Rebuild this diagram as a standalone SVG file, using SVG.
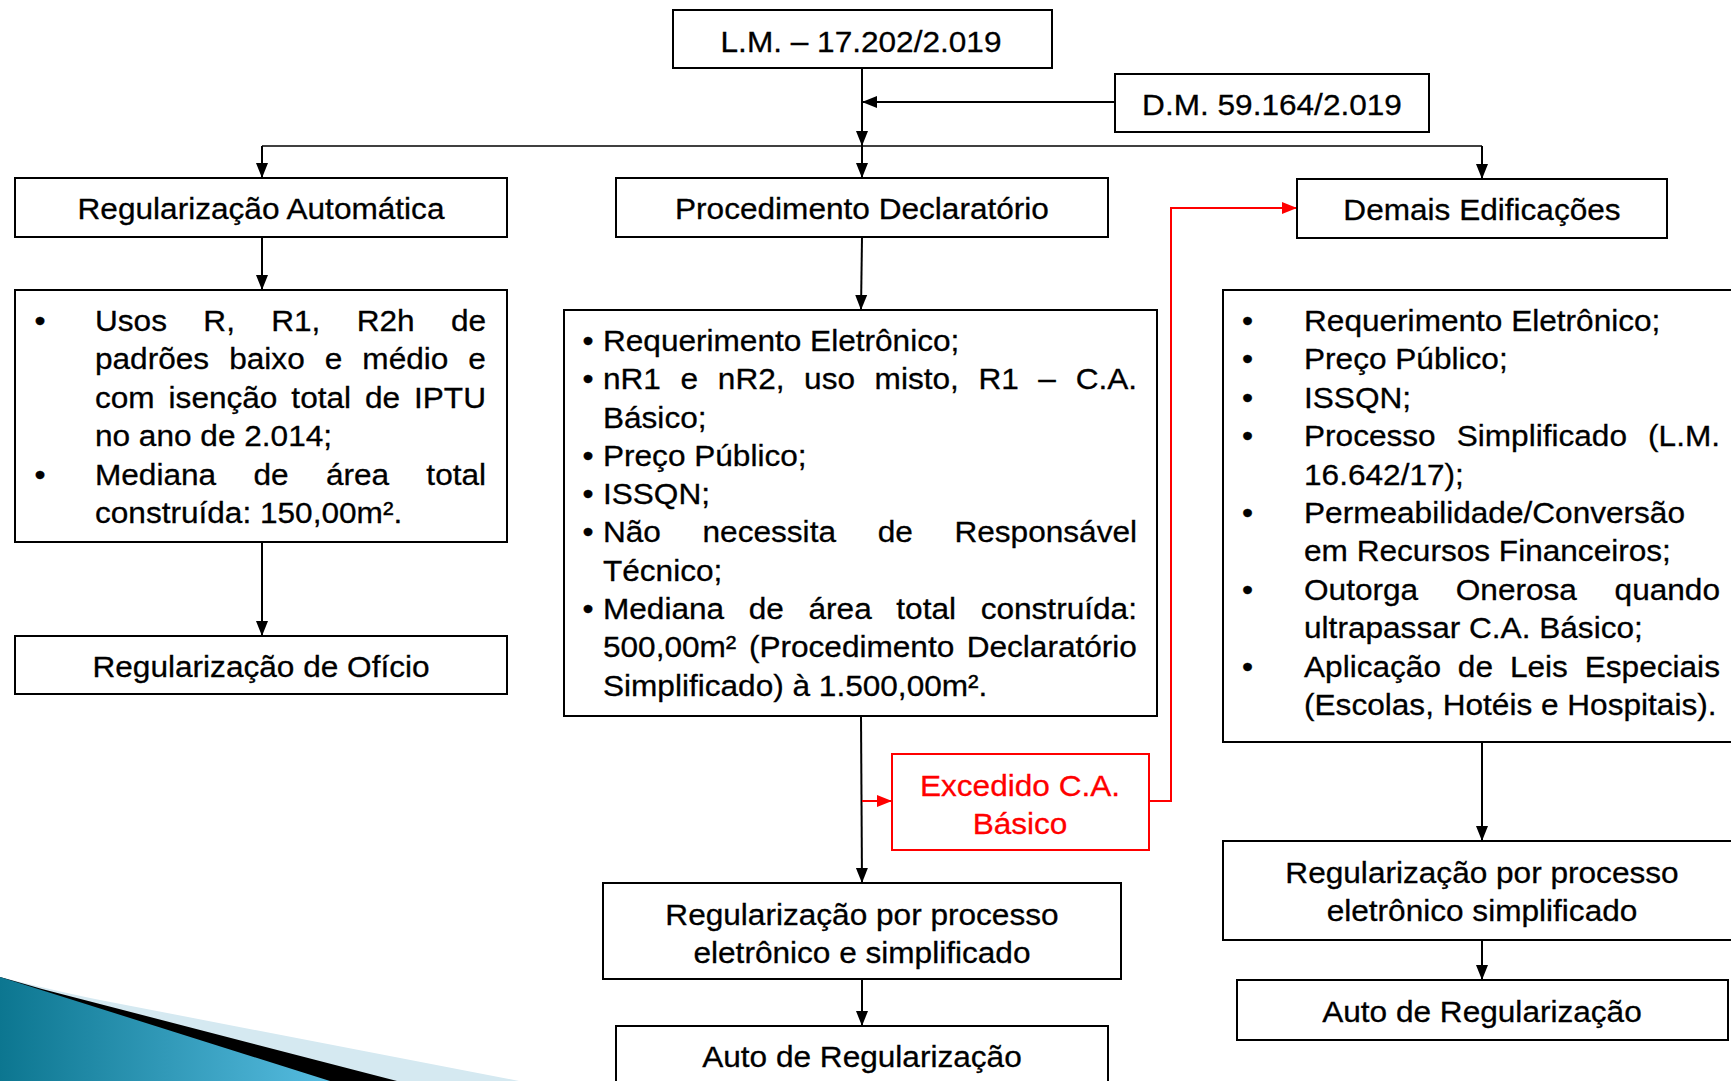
<svg xmlns="http://www.w3.org/2000/svg" width="1731" height="1081" viewBox="0 0 1731 1081">
<defs>
<style>
.box{fill:#fff;stroke:#000;stroke-width:2}
.rbox{fill:#fff;stroke:#FF0000;stroke-width:2}
.t{font-family:"Liberation Sans",Arial,sans-serif;font-size:30px;fill:#000;stroke:#000;stroke-width:0.3px}
.c{text-anchor:middle}
.red{fill:#FF0000;stroke:#FF0000}
.ln{fill:none;stroke:#000;stroke-width:2}
.rl{fill:none;stroke:#FF0000;stroke-width:2}
</style>
<marker id="ah" markerUnits="userSpaceOnUse" markerWidth="16" markerHeight="14" refX="15" refY="7" orient="auto"><path d="M0,1 L15,7 L0,13 z" fill="#000"/></marker>
<marker id="ahr" markerUnits="userSpaceOnUse" markerWidth="16" markerHeight="14" refX="15" refY="7" orient="auto"><path d="M0,1 L15,7 L0,13 z" fill="#FF0000"/></marker>
<linearGradient id="teal" x1="0" y1="0" x2="1" y2="0"><stop offset="0" stop-color="#0C7690"/><stop offset="1" stop-color="#56BCE0"/></linearGradient>
</defs>
<rect width="1731" height="1081" fill="#fff"/>

<g id="decoration">
<path d="M0,977 Q60,992 100,1000 L519,1081 L0,1081 Z" fill="#D5E9F1"/>
<path d="M0,977 Q25,984 42,989 L397,1081 L0,1081 Z" fill="#000"/>
<path d="M0,977 L330,1081 L0,1081 Z" fill="url(#teal)"/>
</g>

<g id="connectors">
<line class="ln" x1="862" y1="68" x2="862" y2="146" marker-end="url(#ah)"/>
<line class="ln" x1="1115" y1="102" x2="862" y2="102" marker-end="url(#ah)"/>
<line class="ln" x1="262" y1="146" x2="1482" y2="146" style="stroke-width:1.6"/>
<line class="ln" x1="262" y1="146" x2="262" y2="178" marker-end="url(#ah)"/>
<line class="ln" x1="862" y1="146" x2="862" y2="178" marker-end="url(#ah)"/>
<line class="ln" x1="1482" y1="146" x2="1482" y2="179" marker-end="url(#ah)"/>
<line class="ln" x1="262" y1="237" x2="262" y2="290" marker-end="url(#ah)"/>
<line class="ln" x1="262" y1="542" x2="262" y2="636" marker-end="url(#ah)"/>
<line class="ln" x1="862" y1="237" x2="861" y2="310" marker-end="url(#ah)"/>
<line class="ln" x1="861" y1="716" x2="862" y2="883" marker-end="url(#ah)"/>
<line class="rl" x1="862" y1="801" x2="892" y2="801" marker-end="url(#ahr)"/>
<polyline class="rl" points="1149,801 1171,801 1171,208 1297,208" marker-end="url(#ahr)"/>
<line class="ln" x1="862" y1="979" x2="862" y2="1026" marker-end="url(#ah)"/>
<line class="ln" x1="1482" y1="742" x2="1482" y2="841" marker-end="url(#ah)"/>
<line class="ln" x1="1482" y1="940" x2="1482" y2="980" marker-end="url(#ah)"/>
</g>

<g id="n-lm">
<rect class="box" x="673" y="10" width="379" height="58"/>
<text class="t c" transform="scale(1.053 1)" x="817.7" y="52">L.M. – 17.202/2.019</text>
</g>

<g id="n-dm">
<rect class="box" x="1115" y="74" width="314" height="58"/>
<text class="t c" transform="scale(1.053 1)" x="1208" y="115">D.M. 59.164/2.019</text>
</g>

<g id="n-reg-auto">
<rect class="box" x="15" y="178" width="492" height="59"/>
<text class="t c" transform="scale(1.053 1)" x="247.9" y="219">Regularização Automática</text>
</g>

<g id="n-proc-decl">
<rect class="box" x="616" y="178" width="492" height="59"/>
<text class="t c" transform="scale(1.053 1)" x="818.6" y="219">Procedimento Declaratório</text>
</g>

<g id="n-demais">
<rect class="box" x="1297" y="179" width="370" height="59"/>
<text class="t c" transform="scale(1.053 1)" x="1407.4" y="220">Demais Edificações</text>
</g>

<g id="n-auto-list">
<rect class="box" x="15" y="290" width="492" height="252"/>
<g class="t" transform="scale(1.053 1)">
<text x="32.8" y="331">•</text>
<text y="331"><tspan x="90.2">Usos</tspan><tspan x="193.1">R,</tspan><tspan x="257.5">R1,</tspan><tspan x="338.7">R2h</tspan><tspan x="428.3">de</tspan></text>
<text y="369.4"><tspan x="90.2">padrões</tspan><tspan x="217.7">baixo</tspan><tspan x="308.4">e</tspan><tspan x="344.1">médio</tspan><tspan x="444.7">e</tspan></text>
<text y="407.8"><tspan x="90.2">com</tspan><tspan x="160.1">isenção</tspan><tspan x="276.7">total</tspan><tspan x="346.6">de</tspan><tspan x="393.2">IPTU</tspan></text>
<text x="90.2" y="446.2">no ano de 2.014;</text>
<text x="32.8" y="484.6">•</text>
<text y="484.6"><tspan x="90.2">Mediana</tspan><tspan x="240.7">de</tspan><tspan x="309.5">área</tspan><tspan x="404.9">total</tspan></text>
<text x="90.2" y="523">construída: 150,00m².</text>
</g>
</g>

<g id="n-oficio">
<rect class="box" x="15" y="636" width="492" height="58"/>
<text class="t c" transform="scale(1.053 1)" x="247.9" y="677">Regularização de Ofício</text>
</g>

<g id="n-proc-list">
<rect class="box" x="564" y="310" width="593" height="406"/>
<g class="t" transform="scale(1.053 1)">
<text x="553.2" y="351">•</text>
<text x="572.6" y="351">Requerimento Eletrônico;</text>
<text x="553.2" y="389.3">•</text>
<text y="389.3"><tspan x="572.6">nR1</tspan><tspan x="646.3">e</tspan><tspan x="681.7">nR2,</tspan><tspan x="763.6">uso</tspan><tspan x="830.6">misto,</tspan><tspan x="929.3">R1</tspan><tspan x="986.1">–</tspan><tspan x="1021.5">C.A.</tspan></text>
<text x="572.6" y="427.6">Básico;</text>
<text x="553.2" y="465.9">•</text>
<text x="572.6" y="465.9">Preço Público;</text>
<text x="553.2" y="504.2">•</text>
<text x="572.6" y="504.2">ISSQN;</text>
<text x="553.2" y="542.5">•</text>
<text y="542.5"><tspan x="572.6">Não</tspan><tspan x="667.2">necessita</tspan><tspan x="833.5">de</tspan><tspan x="906.4">Responsável</tspan></text>
<text x="572.6" y="580.8">Técnico;</text>
<text x="553.2" y="619.1">•</text>
<text y="619.1"><tspan x="572.6">Mediana</tspan><tspan x="711.1">de</tspan><tspan x="767.8">área</tspan><tspan x="851.2">total</tspan><tspan x="931.3">construída:</tspan></text>
<text y="657.4"><tspan x="572.6">500,00m²</tspan><tspan x="711.2">(Procedimento</tspan><tspan x="918">Declaratório</tspan></text>
<text x="572.6" y="695.7">Simplificado) à 1.500,00m².</text>
</g>
</g>

<g id="n-demais-list">
<rect class="box" x="1223" y="290" width="530" height="452"/>
<g class="t" transform="scale(1.053 1)">
<text x="1179.5" y="331">•</text>
<text x="1238.4" y="331">Requerimento Eletrônico;</text>
<text x="1179.5" y="369.4">•</text>
<text x="1238.4" y="369.4">Preço Público;</text>
<text x="1179.5" y="407.8">•</text>
<text x="1238.4" y="407.8">ISSQN;</text>
<text x="1179.5" y="446.2">•</text>
<text y="446.2"><tspan x="1238.4">Processo</tspan><tspan x="1383.4">Simplificado</tspan><tspan x="1565.1">(L.M.</tspan></text>
<text x="1238.4" y="484.6">16.642/17);</text>
<text x="1179.5" y="523">•</text>
<text x="1238.4" y="523">Permeabilidade/Conversão</text>
<text x="1238.4" y="561.4">em Recursos Financeiros;</text>
<text x="1179.5" y="599.8">•</text>
<text y="599.8"><tspan x="1238.4">Outorga</tspan><tspan x="1382.5">Onerosa</tspan><tspan x="1533.3">quando</tspan></text>
<text x="1238.4" y="638.2">ultrapassar C.A. Básico;</text>
<text x="1179.5" y="676.6">•</text>
<text y="676.6"><tspan x="1238.4">Aplicação</tspan><tspan x="1384.5">de</tspan><tspan x="1433.9">Leis</tspan><tspan x="1505">Especiais</tspan></text>
<text x="1238.4" y="715">(Escolas, Hotéis e Hospitais).</text>
</g>
</g>

<g id="n-excedido">
<rect class="rbox" x="892" y="754" width="257" height="96"/>
<text class="t c red" transform="scale(1.053 1)" x="968.7" y="796">Excedido C.A.</text>
<text class="t c red" transform="scale(1.053 1)" x="968.7" y="834">Básico</text>
</g>

<g id="n-proc-result">
<rect class="box" x="603" y="883" width="518" height="96"/>
<text class="t c" transform="scale(1.053 1)" x="818.6" y="925">Regularização por processo</text>
<text class="t c" transform="scale(1.053 1)" x="818.6" y="963">eletrônico e simplificado</text>
</g>

<g id="n-proc-auto">
<rect class="box" x="616" y="1026" width="492" height="70"/>
<text class="t c" transform="scale(1.053 1)" x="818.6" y="1067">Auto de Regularização</text>
</g>

<g id="n-demais-result">
<rect class="box" x="1223" y="841" width="530" height="99"/>
<text class="t c" transform="scale(1.053 1)" x="1407.4" y="883">Regularização por processo</text>
<text class="t c" transform="scale(1.053 1)" x="1407.4" y="921">eletrônico simplificado</text>
</g>

<g id="n-demais-auto">
<rect class="box" x="1237" y="980" width="491" height="60"/>
<text class="t c" transform="scale(1.053 1)" x="1407.4" y="1022">Auto de Regularização</text>
</g>
</svg>
